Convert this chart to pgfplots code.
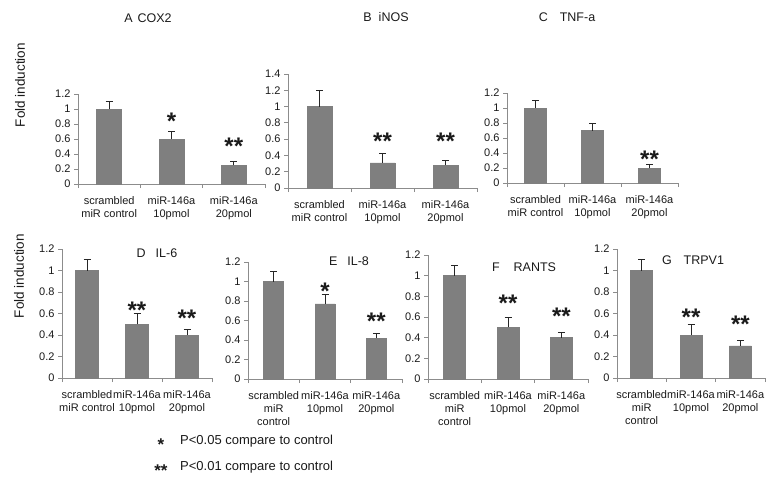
\documentclass[border=0pt]{standalone}
\usepackage{pgfplots}
\pgfplotsset{compat=1.18}
\usepackage{pgfplotstable}
\usepackage{fontspec}
\setmainfont{Liberation Sans}
\definecolor{bargray}{HTML}{7F7F7F}
\definecolor{axisgray}{HTML}{8C8C8C}
\definecolor{txt}{HTML}{1A1A1A}

\pgfplotstableread{
x y e
0 1.00 0.10
1 0.60 0.10
2 0.25 0.05
}\dataA
\pgfplotstableread{
x y e
0 1.00 0.20
1 0.31 0.11
2 0.28 0.06
}\dataB
\pgfplotstableread{
x y e
0 1.00 0.10
1 0.70 0.10
2 0.20 0.05
}\dataC
\pgfplotstableread{
x y e
0 1.00 0.10
1 0.50 0.10
2 0.40 0.05
}\dataD
\pgfplotstableread{
x y e
0 1.00 0.10
1 0.77 0.10
2 0.42 0.05
}\dataE
\pgfplotstableread{
x y e
0 1.00 0.10
1 0.50 0.10
2 0.40 0.05
}\dataF
\pgfplotstableread{
x y e
0 1.00 0.10
1 0.40 0.10
2 0.30 0.05
}\dataG

\pgfplotsset{
  panel/.style={
    scale only axis, clip=false,
    axis x line*=bottom, axis y line*=left,
    axis line style={-, draw=axisgray, line width=0.9pt},
    xmin=-0.5, xmax=2.5, ymin=0,
    xtick={0,1,2},
    minor xtick={-0.5,0.5,1.5,2.5},
    tick align=outside,
    major tick length=4pt, minor tick length=4pt,
    tick style={axisgray, line width=0.9pt},
    major x tick style={draw=none},
    ybar, bar shift=0pt,
    /pgf/number format/assume math mode=true,
    yticklabel style={font=\fontsize{11}{13}\selectfont, text=txt},
    xticklabel style={font=\fontsize{11}{13.2}\selectfont, align=center, text=txt, yshift=-5pt},
  },
  barstyle/.style={
    fill=bargray, draw=bargray,
    error bars/.cd, y dir=plus, y explicit,
    error bar style={line width=0.9pt, color=black!85},
    error mark options={rotate=90, mark size=3.5pt, line width=0.9pt, black!85},
  },
}
\tikzset{sigstar/.style={font=\fontsize{24}{24}\selectfont\bfseries, inner sep=0pt, anchor=center, yshift=-3.5pt, text=txt}}
\newcommand{\sig}[3]{\node[sigstar] at (axis cs:#1,#2) {#3};}

\begin{document}
\begin{tikzpicture}
\path[use as bounding box] (0,0) rectangle (767pt,-479pt);

% ---------- top row ----------
\begin{axis}[panel, at={(78pt,-184pt)}, anchor=south west, width=187pt, height=90pt,
  ymax=1.2, ytick={0,0.2,0.4,0.6,0.8,1,1.2}, bar width=25pt,
  xticklabels={{scrambled\\miR control},{miR-146a\\10pmol},{miR-146a\\20pmol}}]
\addplot[barstyle] table[x=x,y=y,y error=e] {\dataA};
\sig{1}{0.89}{*}
\sig{2}{0.55}{**}
\end{axis}

\begin{axis}[panel, at={(288pt,-188pt)}, anchor=south west, width=189pt, height=114pt,
  ymax=1.4, ytick={0,0.2,0.4,0.6,0.8,1,1.2,1.4}, bar width=25pt,
  xticklabels={{scrambled\\miR control},{miR-146a\\10pmol},{miR-146a\\20pmol}}]
\addplot[barstyle] table[x=x,y=y,y error=e] {\dataB};
\sig{1}{0.62}{**}
\sig{2}{0.62}{**}
\end{axis}

\begin{axis}[panel, at={(507pt,-183pt)}, anchor=south west, width=171pt, height=90pt,
  ymax=1.2, ytick={0,0.2,0.4,0.6,0.8,1,1.2}, bar width=22pt,
  xticklabels={{scrambled\\miR control},{miR-146a\\10pmol},{miR-146a\\20pmol}}]
\addplot[barstyle] table[x=x,y=y,y error=e] {\dataC};
\sig{2}{0.37}{**}
\end{axis}

% ---------- bottom row ----------
\begin{axis}[panel, at={(62pt,-378pt)}, anchor=south west, width=150pt, height=129pt,
  ymax=1.2, ytick={0,0.2,0.4,0.6,0.8,1,1.2}, bar width=23pt,
  xticklabels={{scrambled\\miR control},{miR-146a\\10pmol},{miR-146a\\20pmol}}]
\addplot[barstyle] table[x=x,y=y,y error=e] {\dataD};
\sig{1}{0.66}{**}
\sig{2}{0.59}{**}
\end{axis}

\begin{axis}[panel, at={(248pt,-379pt)}, anchor=south west, width=154pt, height=117pt,
  ymax=1.2, ytick={0,0.2,0.4,0.6,0.8,1,1.2}, bar width=20pt,
  xticklabels={{scrambled\\miR\\control},{miR-146a\\10pmol},{miR-146a\\20pmol}}]
\addplot[barstyle] table[x=x,y=y,y error=e] {\dataE};
\sig{1}{0.94}{*}
\sig{2}{0.63}{**}
\end{axis}

\begin{axis}[panel, at={(428pt,-379pt)}, anchor=south west, width=160pt, height=124pt,
  ymax=1.2, ytick={0,0.2,0.4,0.6,0.8,1,1.2}, bar width=22pt,
  xticklabels={{scrambled\\miR\\control},{miR-146a\\10pmol},{miR-146a\\20pmol}}]
\addplot[barstyle] table[x=x,y=y,y error=e] {\dataF};
\sig{1}{0.77}{**}
\sig{2}{0.64}{**}
\end{axis}

\begin{axis}[panel, at={(617pt,-378pt)}, anchor=south west, width=148pt, height=129pt,
  ymax=1.2, ytick={0,0.2,0.4,0.6,0.8,1,1.2}, bar width=22pt,
  xticklabels={{scrambled\\miR\\control},{miR-146a\\10pmol},{miR-146a\\20pmol}}]
\addplot[barstyle] table[x=x,y=y,y error=e] {\dataG};
\sig{1}{0.60}{**}
\sig{2}{0.53}{**}
\end{axis}

% ---------- titles and labels ----------
\begin{scope}[every node/.style={font=\fontsize{12.5}{14}\selectfont, text=txt, inner sep=0pt}]
\node at (148pt,-18pt) {A\hspace{5pt}COX2};
\node at (386pt,-17pt) {B\hspace{7pt}iNOS};
\node at (567pt,-17pt) {C\hspace{12pt}TNF-a};
\node at (157pt,-253pt) {D\hspace{10pt}IL-6};
\node at (349pt,-261pt) {E\hspace{10pt}IL-8};
\node at (524pt,-267pt) {F\hspace{14pt}RANTS};
\node at (693pt,-260pt) {G\hspace{12pt}TRPV1};
\end{scope}
\node[rotate=90, font=\fontsize{13.5}{15}\selectfont, text=txt, inner sep=0pt] at (20pt,-85pt) {Fold induction};
\node[rotate=90, font=\fontsize{13.5}{15}\selectfont, text=txt, inner sep=0pt] at (19pt,-276pt) {Fold induction};

% ---------- footnote ----------
\node[font=\fontsize{17}{17}\selectfont\bfseries, inner sep=0pt, yshift=-3.5pt, text=txt] at (161pt,-441pt) {*};
\node[font=\fontsize{17}{17}\selectfont\bfseries, inner sep=0pt, yshift=-3.5pt, text=txt] at (161pt,-467pt) {**};
\node[font=\fontsize{13}{15}\selectfont, anchor=west, inner sep=0pt, text=txt] at (180pt,-441pt) {P<0.05 compare to control};
\node[font=\fontsize{13}{15}\selectfont, anchor=west, inner sep=0pt, text=txt] at (180pt,-467pt) {P<0.01 compare to control};
\end{tikzpicture}
\end{document}
